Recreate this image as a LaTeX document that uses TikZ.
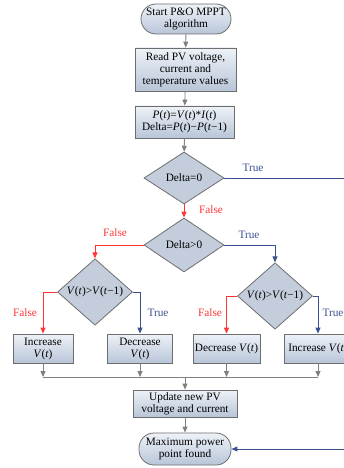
\documentclass[tikz,border=0pt]{standalone}
\usepackage{fontspec}
\setmainfont{Liberation Serif}
\usetikzlibrary{shapes.geometric,arrows.meta}
\definecolor{bord}{HTML}{6E6E6E}
\definecolor{conn}{HTML}{808080}
\definecolor{fillTop}{HTML}{EEF2F8}
\definecolor{fillBot}{HTML}{B8C5D8}
\definecolor{dfill}{HTML}{C3CDDB}
\definecolor{tred}{HTML}{FF3535}
\definecolor{tblue}{HTML}{3C5290}
\begin{document}
\begin{tikzpicture}[x=1pt,y=-1pt,
  every node/.style={font=\fontsize{11.3}{12}\selectfont},
  box/.style={draw=bord, line width=0.8pt, top color=fillTop, bottom color=fillBot, align=center, inner sep=1pt},
  term/.style={box, rounded corners=15pt},
  dec/.style={diamond, draw=bord, line width=0.8pt, fill=dfill, inner sep=0pt, align=center},
  garrow/.style={draw=conn, line width=0.9pt, -{Triangle[width=5pt,length=6pt]}},
  rarrow/.style={draw=tred, line width=0.9pt, -{Triangle[width=5pt,length=6pt]}},
  barrow/.style={draw=tblue, line width=0.9pt, -{Triangle[width=5pt,length=6pt]}},
  lblR/.style={text=tred, inner sep=0pt},
  lblB/.style={text=tblue, inner sep=0pt}
]
\useasboundingbox (0,0) rectangle (344,468);
\fill[white] (0,0) rectangle (344,468);
\clip (0,0) rectangle (344,468);

\node[term, minimum width=90pt, minimum height=30pt] (start) at (186,19) {Start P\&O MPPT\\algorithm};
\node[box, minimum width=101pt, minimum height=43pt] (read) at (185.5,69.5) {Read PV voltage,\\current and\\temperature values};
\node[box, minimum width=99pt, minimum height=32pt] (calc) at (184.5,122) {\textit{P}(\textit{t})=\textit{V}(\textit{t})*\textit{I}(\textit{t})\\Delta=\textit{P}(\textit{t})−\textit{P}(\textit{t}−1)};
\node[dec, minimum width=80pt, minimum height=52pt] (d0) at (184,178) {Delta=0};
\node[dec, minimum width=80pt, minimum height=54pt] (d1) at (184,245) {Delta>0};
\node[dec, minimum width=75pt, minimum height=46pt] (dl) at (95,292) {\textit{V}(\textit{t})>\textit{V}(\textit{t}−1)};
\node[dec, minimum width=75pt, minimum height=48pt] (dr) at (275,296) {\textit{V}(\textit{t})>\textit{V}(\textit{t}−1)};
\node[box, minimum width=60pt, minimum height=29pt] (b1) at (43,348.5) {Increase\\\textit{V}(\textit{t})};
\node[box, minimum width=65pt, minimum height=29pt] (b2) at (140,348.5) {Decrease\\\textit{V}(\textit{t})};
\node[box, minimum width=67pt, minimum height=29pt] (b3) at (226.5,348.5) {Decrease \textit{V}(\textit{t})};
\node[box, minimum width=67pt, minimum height=29pt] (b4) at (318,348.5) {Increase \textit{V}(\textit{t})};
\node[box, minimum width=104pt, minimum height=27pt] (upd) at (185,403.5) {Update new PV\\voltage and current};
\node[term, minimum width=92pt, minimum height=32pt] (maxp) at (185,449) {Maximum power\\point found};

\coordinate (mL) at (43,377);
\coordinate (mR) at (318,377);
\coordinate (mC) at (185,377);
\coordinate (edgeTop) at (352,178);
\coordinate (edgeBot) at (352,449);

\draw[garrow] (start) -- (read);
\draw[garrow] (read) -- (calc);
\draw[garrow] (calc) -- (d0);
\draw[barrow] (d0.east) -- (edgeTop) -- (edgeBot) -- (maxp.east);
\draw[rarrow] (d0) -- (d1);
\draw[rarrow] (d1.west) -| (dl.north);
\draw[barrow] (d1.east) -| (dr.north);
\draw[rarrow] (dl.west) -| (b1.north);
\draw[barrow] (dl.east) -| (b2.north);
\draw[rarrow] (dr.west) -| (b3.north);
\draw[barrow] (dr.east) -| (b4.north);
\draw[garrow] (b1.south) -- (mL);
\draw[garrow] (b2.south) -- (b2.south |- mL);
\draw[garrow] (b3.south) -- (b3.south |- mL);
\draw[garrow] (b4.south) -- (mR);
\draw[draw=conn, line width=0.9pt] (mL) -- (mR);
\draw[garrow] (mC) -- (upd);
\draw[garrow] (upd) -- (maxp);

\node[lblB] (t0) at (253,168) {True};
\node[lblR] (f0) at (211,210) {False};
\node[lblR] (f1) at (115,233) {False};
\node[lblB] (t1) at (249,235) {True};
\node[lblR] (f2) at (25,313) {False};
\node[lblB] (t2) at (158,313) {True};
\node[lblR] (f3) at (210,313) {False};
\node[lblB] (t3) at (333,313) {True};
\end{tikzpicture}
\end{document}
